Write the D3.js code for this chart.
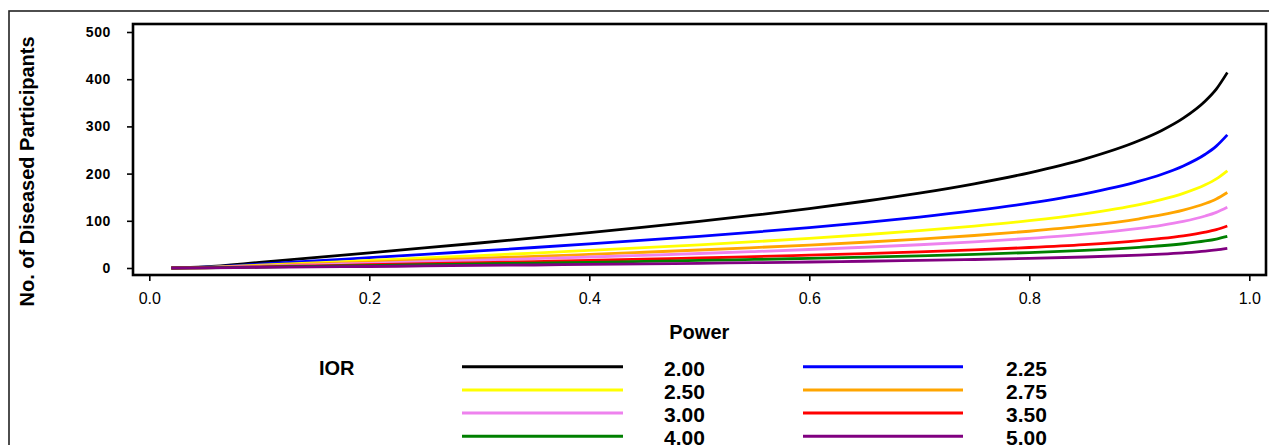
<!DOCTYPE html>
<html>
<head>
<meta charset="utf-8">
<script src="https://cdn.jsdelivr.net/npm/d3@7/dist/d3.min.js"></script>
<style>
  html, body { margin: 0; padding: 0; background: #fff; }
  svg { display: block; }
  text { font-family: "Liberation Sans", Arial, sans-serif; fill: #000; }
</style>
</head>
<body>
<svg id="chart" width="1269" height="445"></svg>
<script>
// ---- data ----
const power = [0.02,0.05,0.10,0.15,0.20,0.25,0.30,0.35,0.40,0.45,0.50,0.55,0.60,0.65,0.70,0.75,0.80,0.85,0.90,0.92,0.94,0.96,0.97,0.98];
const ior200 = [0.2,2.5,11.8,21.9,32.1,42.5,53.0,63.7,74.9,86.5,98.7,111.8,125.9,141.4,158.6,178.4,201.7,230.7,270.1,291.0,317.5,353.9,379.1,414];
const ior225 = [0.1,1.7,8.0,14.9,21.9,28.9,36.1,43.4,51.0,58.9,67.2,76.1,85.7,96.3,108.0,121.5,137.4,157.1,183.9,198.2,216.2,241.0,258.2,282];
const ior250 = [0.1,1.2,5.9,10.9,16.0,21.2,26.4,31.7,37.3,43.1,49.2,55.7,62.7,70.4,79.0,88.8,100.4,114.9,134.5,144.9,158.1,176.2,188.8,206];
const ior275 = [0.1,1.0,4.6,8.5,12.4,16.4,20.5,24.6,28.9,33.4,38.1,43.2,48.6,54.6,61.2,68.9,77.9,89.1,104.3,112.3,122.6,136.6,146.3,160];
const ior300 = [0.1,0.8,3.7,6.8,10.0,13.2,16.5,19.8,23.3,26.9,30.7,34.8,39.2,44.0,49.3,55.5,62.7,71.7,84.0,90.5,98.7,110.1,117.9,128.6];
const ior350 = [0.0,0.5,2.5,4.7,6.9,9.1,11.4,13.7,16.1,18.6,21.2,24.0,27.1,30.4,34.1,38.4,43.4,49.6,58.1,62.6,68.3,76.1,81.5,89];
const ior400 = [0.0,0.4,1.9,3.5,5.2,6.9,8.6,10.3,12.1,14.0,16.0,18.1,20.4,22.9,25.7,28.9,32.7,37.4,43.8,47.1,51.4,57.3,61.4,67];
const ior500 = [0.0,0.3,1.2,2.2,3.2,4.3,5.4,6.4,7.6,8.7,10.0,11.3,12.7,14.3,16.0,18.0,20.4,23.3,27.3,29.4,32.1,35.7,38.3,41.7];
const seriesLabels = ["2.00","2.25","2.50","2.75","3.00","3.50","4.00","5.00"];
const seriesValues = [ior200, ior225, ior250, ior275, ior300, ior350, ior400, ior500];
const seriesColors = ["#000000","#0000ff","#ffff00","#ffa500","#ee82ee","#ff0000","#008000","#800080"];
const xTicks = [0.0,0.2,0.4,0.6,0.8,1.0];
const yTicks = [0,100,200,300,400,500];

// ---- layout ----
const svg = d3.select("#chart");
const frame = {left: 133, right: 1266, top: 24, bottom: 275};
const x = d3.scaleLinear().domain([0, 1]).range([149.3, 1249.3]);
const y = d3.scaleLinear().domain([0, 500]).range([268, 32]);

// outer border (only left & top visible)
svg.append("rect").attr("x", 9).attr("y", 11).attr("width", 1400).attr("height", 600)
  .attr("fill", "none").attr("stroke", "#222").attr("stroke-width", 1.6);

// series
const line = d3.line().x(d => x(d[0])).y(d => y(d[1])).curve(d3.curveMonotoneX);
seriesValues.forEach((vals, i) => {
  svg.append("path")
    .datum(power.map((p, j) => [p, vals[j]]))
    .attr("d", line)
    .attr("fill", "none")
    .attr("stroke", seriesColors[i])
    .attr("stroke-width", 2.8);
});

// plot frame
svg.append("rect").attr("x", frame.left).attr("y", frame.top)
  .attr("width", frame.right - frame.left).attr("height", frame.bottom - frame.top)
  .attr("fill", "none").attr("stroke", "#000").attr("stroke-width", 2.6);

// x axis
const xAxis = d3.axisBottom(x).tickValues(xTicks).tickFormat(d3.format(".1f")).tickSize(6).tickSizeOuter(0);
const gx = svg.append("g").attr("transform", `translate(0,${frame.bottom})`).call(xAxis);
gx.select(".domain").remove();
gx.selectAll(".tick line").attr("stroke", "#000").attr("stroke-width", 1.6);
gx.selectAll(".tick text").attr("font-size", 16).attr("font-family", "Liberation Sans, Arial, sans-serif")
  .attr("dy", null).attr("y", 29).attr("fill", "#000");

// y axis
const yAxis = d3.axisLeft(y).tickValues(yTicks).tickFormat(d3.format("d")).tickSize(6).tickSizeOuter(0);
const gy = svg.append("g").attr("transform", `translate(${frame.left},0)`).call(yAxis);
gy.select(".domain").remove();
gy.selectAll(".tick line").attr("stroke", "#000").attr("stroke-width", 1.6);
gy.selectAll(".tick text").attr("font-size", 14).attr("font-weight", "bold")
  .attr("font-family", "Liberation Sans, Arial, sans-serif")
  .attr("letter-spacing", 0.6).attr("x", -22).attr("fill", "#000");

// axis titles
svg.append("text").attr("transform", "translate(34,171.5) rotate(-90)")
  .attr("text-anchor", "middle").attr("font-size", 20).attr("font-weight", "bold")
  .text("No. of Diseased Participants");
svg.append("text").attr("x", x(0.5)).attr("y", 339)
  .attr("text-anchor", "middle").attr("font-size", 20).attr("font-weight", "bold")
  .text("Power");

// legend
svg.append("text").attr("x", 319).attr("y", 375).attr("font-size", 20).attr("font-weight", "bold").text("IOR");
const legCols = [{x1: 462, x2: 623, tx: 664}, {x1: 803, x2: 963, tx: 1006}];
seriesLabels.forEach((lab, i) => {
  const col = legCols[i % 2];
  const row = Math.floor(i / 2);
  const ly = 366.7 + row * 23.2;
  svg.append("line").attr("x1", col.x1).attr("x2", col.x2).attr("y1", ly).attr("y2", ly)
    .attr("stroke", seriesColors[i]).attr("stroke-width", 3);
  svg.append("text").attr("x", col.tx).attr("y", ly + 9).attr("font-size", 21).attr("font-weight", "bold").text(lab);
});
</script>
</body>
</html>
